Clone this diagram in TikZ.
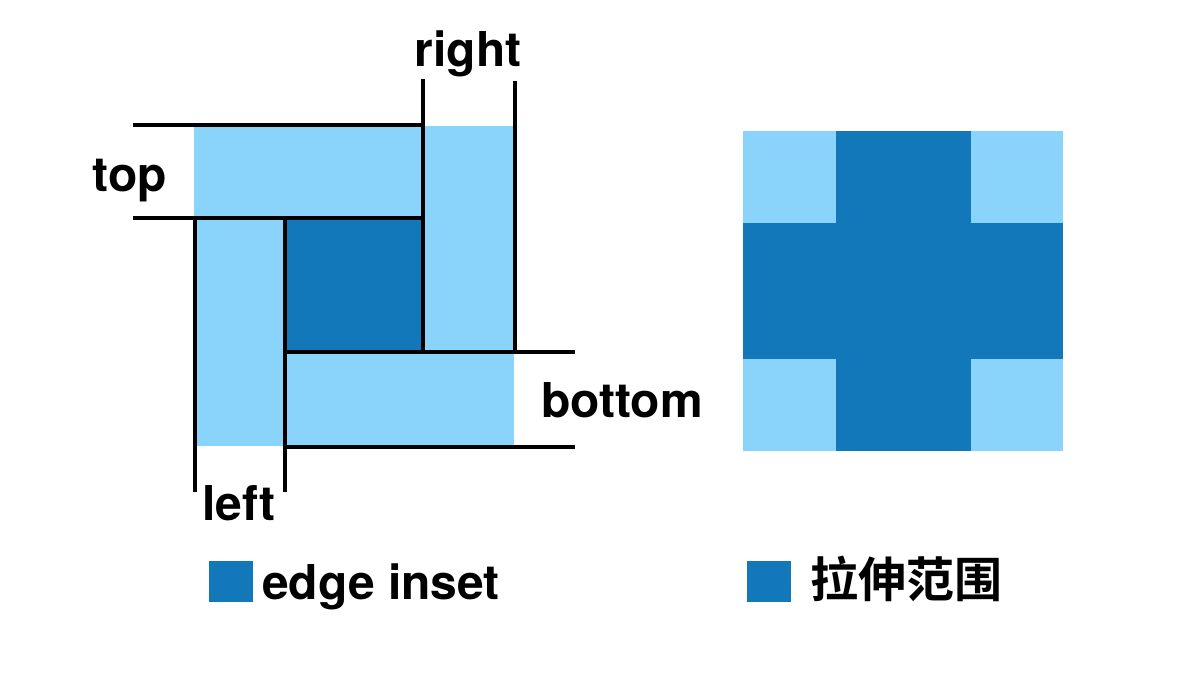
\documentclass[tikz,border=0pt]{standalone}
\usepackage{fontspec}
\setmainfont{TeX Gyre Heros}
\newfontfamily\cjkfont{Noto Sans CJK SC}[BoldFont={* Bold}]
\definecolor{lightblue}{RGB}{138,211,251}
\definecolor{darkblue}{RGB}{19,120,186}
\begin{document}
\begin{tikzpicture}[x=1pt,y=-1pt,
  lbl/.style={anchor=base,inner sep=0pt,font=\fontsize{48}{48}\selectfont\bfseries},
  guide/.style={line width=4pt,black,line cap=butt},
  lightfill/.style={fill=lightblue,draw=none},
  darkfill/.style={fill=darkblue,draw=none}]
\useasboundingbox (0,0) rectangle (1196,686);
\fill[white] (0,0) rectangle (1196,686);
% left diagram fills
\path[lightfill] (194,126) rectangle (423,218);
\path[lightfill] (423,126) rectangle (514,352);
\path[lightfill] (195,218) rectangle (284,446);
\path[lightfill] (284,352) rectangle (514,446);
\path[darkfill] (284,218) rectangle (423,352);
% guide lines
\draw[guide] (133,124.5) -- (425,124.5);
\draw[guide] (133,218) -- (425,218);
\draw[guide] (423,79) -- (423,354);
\draw[guide] (515,81) -- (515,354);
\draw[guide] (284,352) -- (575,352);
\draw[guide] (284,446.5) -- (575,446.5);
\draw[guide] (195,216) -- (195,492);
\draw[guide] (284.5,216) -- (284.5,492);
% labels
\node[lbl] (right) at (468,66) {right};
\node[lbl] (top) at (130,191) {top};
\node[lbl] (bottom) at (622,417) {bottom};
\node[lbl] (left) at (239,520) {left};
% right diagram
\path[lightfill] (743,131) rectangle (1063,451);
\path[darkfill] (836,131) rectangle (971,451);
\path[darkfill] (743,223) rectangle (1063,359);
% legend
\path[darkfill] (209,561) rectangle (253,602);
\node[lbl,anchor=base west] (edge) at (262,599) {edge inset};
\path[darkfill] (747,561) rectangle (791,602);
\node[lbl,anchor=base west,font=\fontsize{48}{48}\cjkfont\bfseries] (stretch) at (810,597) {拉伸范围};
\end{tikzpicture}
\end{document}
